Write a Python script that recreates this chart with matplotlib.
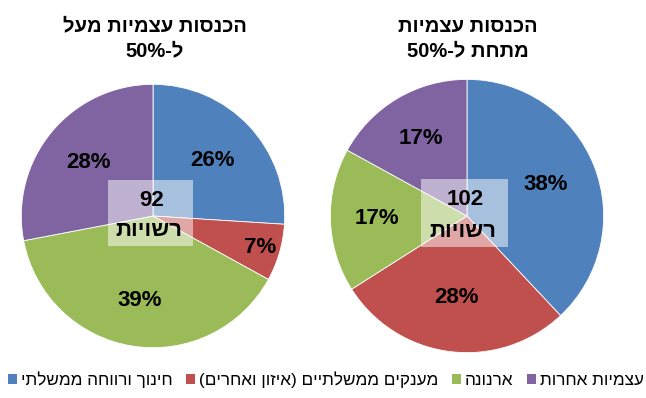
import re
import matplotlib
matplotlib.use("Agg")
import matplotlib.pyplot as plt
from matplotlib.patches import Rectangle, Patch
import numpy as np

plt.rcParams['font.family'] = ['Liberation Sans', 'DejaVu Sans']

# ---- data ----
categories = ['חינוך ורווחה ממשלתי', 'מענקים ממשלתיים (איזון ואחרים)', 'ארנונה', 'עצמיות אחרות']
above50 = [26, 7, 39, 28]
below50 = [38, 28, 17, 17]
counts = [92, 102]
count_label = 'רשויות'
titles = [['הכנסות עצמיות מעל', 'ל-50%'], ['הכנסות עצמיות', 'מתחת ל-50%']]
colors = ['#4F81BD', '#C0504D', '#9BBB59', '#8064A2']


def bidi(s):
    """Logical right-to-left string -> visual order for left-to-right drawing."""
    parts = re.split(r'([0-9][0-9%.,]*)', s)
    out = []
    for p in parts:
        if not p:
            continue
        if p[0].isdigit():
            out.append(p)
        else:
            out.append(p[::-1].translate(str.maketrans('()', ')(')))
    return ''.join(reversed(out))


W, H = 646, 398
fig = plt.figure(figsize=(W / 100, H / 100), dpi=100)

pies = [(153, 216, 133), (467, 216, 138)]
series = [above50, below50]
label_dist = [[0.62, 0.85, 0.65, 0.64], [0.62, 0.6, 0.66, 0.66]]
title_x = [155, 468]

for i, (cx, cy, r) in enumerate(pies):
    ax = fig.add_axes([(cx - r) / W, (H - cy - r) / H, 2 * r / W, 2 * r / H])
    vals = series[i]
    wedges, _ = ax.pie(vals, colors=colors, startangle=90, counterclock=False,
                       radius=1, wedgeprops=dict(edgecolor='white', linewidth=0.6))
    total = sum(vals)
    cum = 0
    for j, v in enumerate(vals):
        mid = 90 - (cum + v / 2) / total * 360
        cum += v
        d = label_dist[i][j]
        ax.text(d * np.cos(np.radians(mid)), d * np.sin(np.radians(mid)), f'{v}%',
                ha='center', va='center', fontsize=16, fontweight='bold', color='black')
    ax.add_patch(Rectangle((-0.34, -0.23), 0.64, 0.50, facecolor='white', alpha=0.5,
                           edgecolor='none', zorder=5))
    ax.text(-0.01, 0.12, str(counts[i]), ha='center', va='center', fontsize=16,
            fontweight='bold', zorder=6)
    ax.text(-0.03, -0.11, bidi(count_label), ha='center', va='center', fontsize=16,
            fontweight='bold', zorder=6)
    ax.set_xlim(-1.01, 1.01)
    ax.set_ylim(-1.01, 1.01)
    ax.set_aspect('equal')
    ax.axis('off')

    fig.text(title_x[i] / W, 1 - 26 / H, bidi(titles[i][0]), ha='center', va='center',
             fontsize=14.5, fontweight='bold')
    fig.text(title_x[i] / W, 1 - 51 / H, bidi(titles[i][1]), ha='center', va='center',
             fontsize=14.5, fontweight='bold')

handles = [Patch(facecolor=c, edgecolor='none') for c in colors]
fig.legend(handles, [bidi(c) for c in categories], loc='center', ncol=4,
           bbox_to_anchor=(326 / W, 18 / H), frameon=False, fontsize=12.3,
           handlelength=0.5, handleheight=0.5, handletextpad=0.25, columnspacing=0.8,
           borderaxespad=0, borderpad=0)

fig.savefig('out.png', dpi=100)
